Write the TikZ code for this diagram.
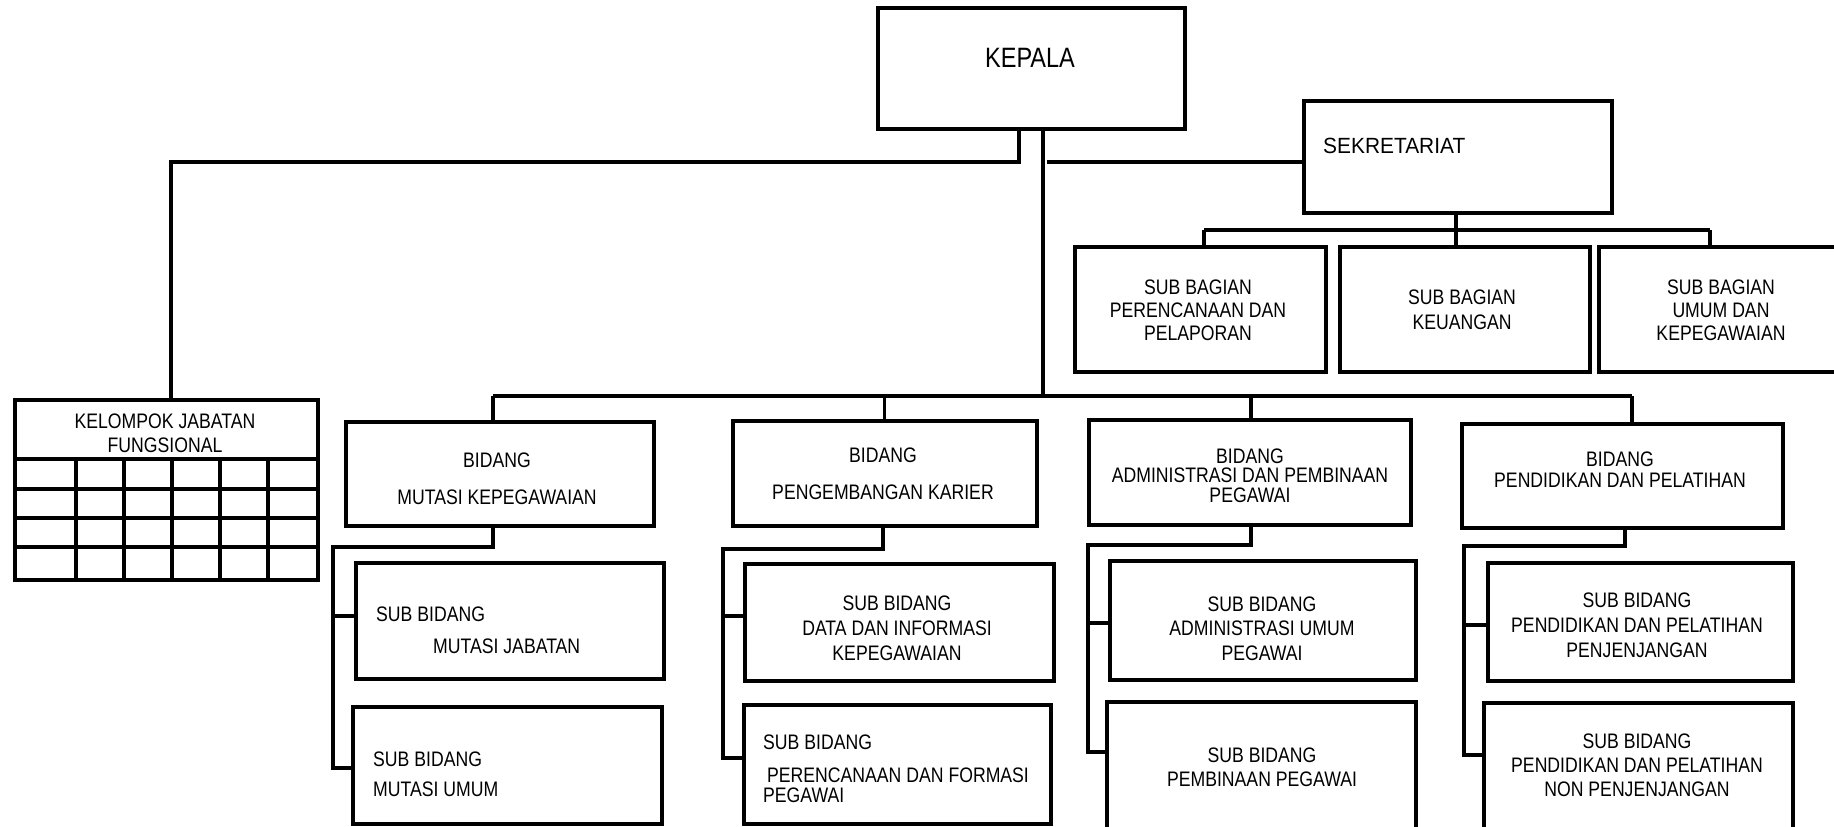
\documentclass[tikz,border=0pt]{standalone}
\usepackage{fontspec}
\setmainfont{Liberation Sans}[FakeStretch=0.84]
\newfontfamily\sekfont{Liberation Sans}[FakeStretch=0.95]
\tikzset{
  box/.style={draw, line width=3.6pt, inner sep=0pt, anchor=north west},
  conn/.style={draw, line width=3.2pt, line join=miter},
  grid/.style={draw, line width=3.2pt},
  txt/.style={inner sep=0pt, align=center, font=\fontsize{21}{24}\selectfont},
}
\newcommand\orgbox[5]{\node[box, minimum width={#4pt-#2pt}, minimum height={#5pt-#3pt}] (#1) at (#2,#3) {};}
\newcommand\branch[8]{%
  \coordinate (#1-a) at (#2,#3);
  \coordinate (#1-b) at (#4,#3);
  \coordinate (#1-c) at (#4,#6);
  \coordinate (#1-d) at (#4,#8);
  \draw[conn] (#1.south -| #1-a) -- (#1-a) -- (#1-b) -- (#1-d) -- (#7.west |- #1-d);
  \draw[conn] (#1-c) -- (#5.west |- #1-c);}
\begin{document}
\begin{tikzpicture}[x=1pt,y=-1pt]
\useasboundingbox (0,0) rectangle (1834,827);
% boxes
\orgbox{kepala}{876}{6}{1183}{127}
\orgbox{sek}{1302}{99}{1610}{211}
\orgbox{sb1}{1073}{245}{1324}{370}
\orgbox{sb2}{1338}{245}{1588}{370}
\orgbox{sb3}{1597}{245}{1860}{370}
\orgbox{kjf}{13}{398}{316}{578}
\orgbox{bm}{344}{420}{652}{524}
\orgbox{smj}{354}{561}{662}{677}
\orgbox{smu}{351}{705}{660}{822}
\orgbox{bp}{731}{419}{1035}{524}
\orgbox{sdi}{743}{562}{1052}{679}
\orgbox{spf}{742}{703}{1049}{822}
\orgbox{ba}{1087}{418}{1409}{523}
\orgbox{sau}{1108}{559}{1414}{678}
\orgbox{spp}{1105}{700}{1414}{850}
\orgbox{bd}{1460}{422}{1781}{526}
\orgbox{spj}{1486}{561}{1791}{679}
\orgbox{snp}{1482}{701}{1791}{850}
% table of kelompok jabatan fungsional
\draw[grid] (13,459) -- (316,459);
\foreach \yy in {489,518,547} \draw[grid] (13,\yy) -- (316,\yy);
\foreach \xx in {76,124,172,220,268} \draw[grid] (\xx,459) -- (\xx,578);
% texts
\node[txt, font=\fontsize{28}{30}\selectfont] (kepala-t) at (1030,58) {KEPALA};
\node[txt, anchor=west, font=\sekfont\fontsize{22}{24}\selectfont] (sek-t) at (1323,146) {SEKRETARIAT};
\node[txt, font=\fontsize{21}{23}\selectfont] (sb1-t) at (1198,310) {SUB BAGIAN\\PERENCANAAN DAN\\PELAPORAN};
\node[txt, font=\fontsize{21}{25}\selectfont] (sb2-t) at (1462,309.5) {SUB BAGIAN\\KEUANGAN};
\node[txt, font=\fontsize{21}{23}\selectfont] (sb3-t) at (1721,310) {SUB BAGIAN\\UMUM DAN\\KEPEGAWAIAN};
\node[txt, font=\fontsize{21}{24}\selectfont] (kjf-t) at (165,433) {KELOMPOK JABATAN\\FUNGSIONAL};
\node[txt, font=\fontsize{21}{37}\selectfont] (bm-t) at (497,478.5) {BIDANG\\MUTASI KEPEGAWAIAN};
\node[txt, anchor=west, align=left, font=\fontsize{21}{32}\selectfont] (smj-t) at (376,630) {SUB BIDANG\\\hspace*{57pt}MUTASI JABATAN};
\node[txt, anchor=west, align=left, font=\fontsize{21}{30}\selectfont] (smu-t) at (373,774) {SUB BIDANG\\MUTASI UMUM};
\node[txt, font=\fontsize{21}{37}\selectfont] (bp-t) at (883,473.5) {BIDANG\\PENGEMBANGAN KARIER};
\node[txt, font=\fontsize{21}{25}\selectfont] (sdi-t) at (897,628) {SUB BIDANG\\DATA DAN INFORMASI\\KEPEGAWAIAN};
\node[txt, anchor=west] (spf-t1) at (763,742.5) {SUB BIDANG};
\node[txt, anchor=west] (spf-t2) at (767,775) {PERENCANAAN DAN FORMASI};
\node[txt, anchor=west] (spf-t3) at (763,795) {PEGAWAI};
\node[txt, font=\fontsize{21}{19.5}\selectfont] (ba-t) at (1250,475.5) {BIDANG\\ADMINISTRASI DAN PEMBINAAN\\PEGAWAI};
\node[txt, font=\fontsize{21}{24.5}\selectfont] (sau-t) at (1262,628.5) {SUB BIDANG\\ADMINISTRASI UMUM\\PEGAWAI};
\node[txt, font=\fontsize{21}{24}\selectfont] (spp-t) at (1262,767) {SUB BIDANG\\PEMBINAAN PEGAWAI};
\node[txt, font=\fontsize{21}{21}\selectfont] (bd-t) at (1620,469.5) {BIDANG\\PENDIDIKAN DAN PELATIHAN};
\node[txt, font=\fontsize{21}{25}\selectfont] (spj-t) at (1637,625) {SUB BIDANG\\PENDIDIKAN DAN PELATIHAN\\PENJENJANGAN};
\node[txt, font=\fontsize{21}{24}\selectfont] (snp-t) at (1637,765) {SUB BIDANG\\PENDIDIKAN DAN PELATIHAN\\NON PENJENJANGAN};
% connectors: kepala
\coordinate (kfx) at (1019,162);
\coordinate (kfl) at (171,162);
\draw[conn] (kepala.south -| kfx) -- (kfx) -- (kfl) -- (kjf.north -| kfl);
\coordinate (mainx) at (1043,396);
\draw[conn] (kepala.south -| mainx) -- (mainx);
\coordinate (sekj) at (1047,162);
\draw[conn] (sekj) -- (sek.west |- sekj);
% sekretariat
\coordinate (sbbus) at (1456,230);
\coordinate (sbl) at (1204,230);
\coordinate (sbr) at (1710,230);
\draw[conn] (sek.south -| sbbus) -- (sbbus);
\draw[conn] (sbl) -- (sbr);
\draw[conn] (sbl) -- (sb1.north -| sbl);
\draw[conn] (sbbus) -- (sb2.north -| sbbus);
\draw[conn] (sbr) -- (sb3.north -| sbr);
% main bus
\coordinate (busl) at (493,396);
\coordinate (busr) at (1632,396);
\coordinate (busa) at (1251,396);
\draw[conn] (busl) -- (busr);
\draw[conn] (busl) -- (bm.north -| busl);
\draw[conn] (bp.north |- busl) -- (bp.north);
\draw[conn] (busa) -- (ba.north -| busa);
\draw[conn] (busr) -- (bd.north -| busr);
% branches to sub bidang
\branch{bm}{493}{547}{333}{smj}{616}{smu}{768}
\branch{bp}{883}{549}{723}{sdi}{616}{spf}{758}
\branch{ba}{1251}{545}{1088}{sau}{623}{spp}{752}
\branch{bd}{1625}{546}{1464}{spj}{625}{snp}{755}
\end{tikzpicture}
\end{document}
